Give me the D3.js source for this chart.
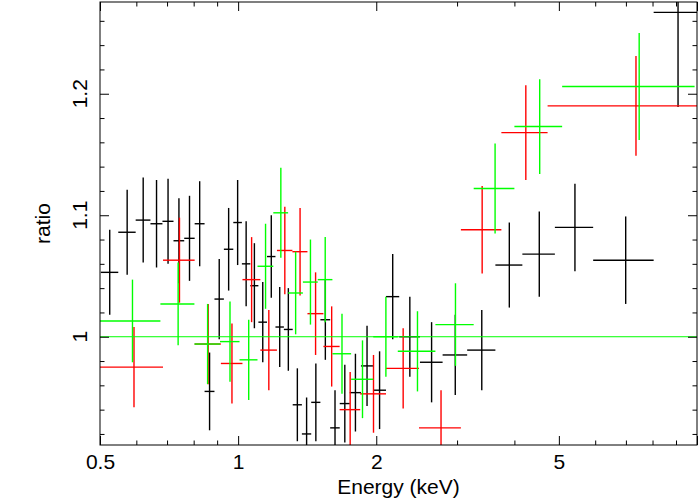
<!DOCTYPE html>
<head>
  <meta charset="utf-8">
  <style>
    body { margin: 0; background: #fff; }
    text { font-family: "Liberation Sans", Arial, sans-serif; }
  </style>
  <script src="https://cdn.jsdelivr.net/npm/d3@7"></script>
</head>
<body>
  <svg width="699" height="498"></svg>
  <script>

  // bin edges (keV), ratio and 1-sigma error per data group
  var blackEdges = [0.502, 0.548, 0.598, 0.644, 0.684, 0.723, 0.763, 0.804, 0.845, 0.888, 0.931, 0.976,
                    1.019, 1.063, 1.107, 1.156, 1.206, 1.258, 1.315, 1.377, 1.443, 1.511, 1.587, 1.665,
                    1.751, 1.852, 1.967, 2.100, 2.244, 2.490, 2.790, 3.156, 3.636, 4.163, 4.901, 5.939,
                    8.045, 10.14];
  var blackRatio = [1.053, 1.086, 1.096, 1.093, 1.095, 1.079, 1.081, 1.093, 0.955, 1.031, 1.072, 1.094,
                    1.060, 1.042, 1.012, 1.066, 1.008, 1.006, 0.944, 0.920, 0.946, 1.014, 0.925, 0.945,
                    0.954, 0.976, 0.956, 1.033, 1.000, 0.979, 0.985, 0.989, 1.059, 1.068, 1.090, 1.063,
                    1.267];
  var blackErr = [0.035, 0.035, 0.035, 0.036, 0.035, 0.035, 0.035, 0.035, 0.032, 0.033, 0.034, 0.035,
                  0.035, 0.035, 0.033, 0.034, 0.033, 0.034, 0.030, 0.030, 0.032, 0.033, 0.031, 0.032,
                  0.032, 0.033, 0.032, 0.035, 0.033, 0.033, 0.033, 0.033, 0.035, 0.035, 0.036, 0.036,
                  0.078];

  var redEdges = [0.5, 0.686, 0.804, 0.917, 1.022, 1.118, 1.215, 1.313, 1.416, 1.534, 1.664, 1.845,
                  2.100, 2.478, 3.058, 3.747, 4.725, 10.0];
  var redRatio = [0.975, 1.063, 0.994, 0.978, 1.047, 0.989, 1.071, 1.070, 1.019, 0.992, 0.940, 0.953,
                  0.974, 0.925, 1.088, 1.168, 1.190];
  var redErr = [0.033, 0.035, 0.033, 0.033, 0.035, 0.033, 0.036, 0.036, 0.034, 0.033, 0.031, 0.032,
                0.033, 0.031, 0.036, 0.039, 0.041];

  var greenEdges = [0.5, 0.677, 0.803, 0.913, 1.007, 1.102, 1.193, 1.285, 1.384, 1.491, 1.605, 1.763,
                    1.970, 2.228, 2.691, 3.261, 4.000, 5.083, 9.88];
  var greenRatio = [1.013, 1.027, 0.994, 0.996, 0.981, 1.058, 1.102, 1.036, 1.045, 1.047, 0.986, 0.965,
                    1.000, 0.988, 1.010, 1.122, 1.173, 1.206];
  var greenErr = [0.034, 0.034, 0.033, 0.033, 0.033, 0.035, 0.037, 0.034, 0.035, 0.035, 0.033, 0.032,
                  0.033, 0.033, 0.034, 0.037, 0.039, 0.044];

  var modelLevel = 1;

  var xMajor = [0.5, 1, 2, 5, 10];
  var xLabels = [0.5, 1, 2, 5];
  var xMinor = [0.6, 0.7, 0.8, 0.9, 3, 4, 6, 7, 8, 9];
  var yMajor = [1, 1.1, 1.2];
  var yMinor = [0.92, 0.94, 0.96, 0.98, 1.02, 1.04, 1.06, 1.08, 1.12, 1.14, 1.16, 1.18, 1.22, 1.24, 1.26];

  var svg = d3.select("svg"),
      padL = 100, padR = 697, padT = 2, padB = 445,
      fontSize = 21;

  var x = d3.scaleLog()
      .domain([0.5, 10])
      .range([padL, padR]);

  var y = d3.scaleLinear()
      .domain([0.9109, 1.2755])
      .range([padB, padT]);

  var series = [
    { color: "#000000", edges: blackEdges, ratio: blackRatio, err: blackErr },
    { color: "#ff0000", edges: redEdges, ratio: redRatio, err: redErr },
    { color: "#00ff00", edges: greenEdges, ratio: greenRatio, err: greenErr }
  ];

  svg.append("clipPath")
      .attr("id", "plot")
    .append("rect")
      .attr("x", padL)
      .attr("y", padT)
      .attr("width", padR - padL)
      .attr("height", padB - padT);

  var plot = svg.append("g").attr("clip-path", "url(#plot)");

  series.forEach(function(s) {
    var pts = s.ratio.map(function(r, i) {
      var lo = s.edges[i], hi = s.edges[i + 1];
      return { lo: lo, hi: hi, e: (lo + hi) / 2, r: r, dr: s.err[i] };
    });

    var g = plot.append("g")
        .attr("stroke", s.color)
        .attr("stroke-width", 1.4);

    g.selectAll(".h")
      .data(pts)
      .enter().append("line")
        .attr("x1", function(d) { return x(d.lo); })
        .attr("x2", function(d) { return x(d.hi); })
        .attr("y1", function(d) { return y(d.r); })
        .attr("y2", function(d) { return y(d.r); });

    g.selectAll(".v")
      .data(pts)
      .enter().append("line")
        .attr("x1", function(d) { return x(d.e); })
        .attr("x2", function(d) { return x(d.e); })
        .attr("y1", function(d) { return y(d.r - d.dr); })
        .attr("y2", function(d) { return y(d.r + d.dr); });
  });

  plot.append("line")
      .attr("x1", x(0.5))
      .attr("x2", x(10))
      .attr("y1", y(modelLevel))
      .attr("y2", y(modelLevel))
      .attr("stroke", "#00ff00")
      .attr("stroke-width", 1);

  // axes: ticks point inward on all four sides
  function ticks(axis, transform) {
    var g = svg.append("g").attr("transform", transform).call(axis);
    g.select(".domain").remove();
    g.selectAll("line").attr("stroke", "#000");
    return g;
  }

  var bx = ticks(d3.axisBottom(x).tickValues(xMajor).tickSize(-9).tickPadding(9)
      .tickFormat(function(d) { return xLabels.indexOf(d) >= 0 ? d : ""; }), "translate(0," + padB + ")");
  bx.attr("font-size", fontSize).attr("font-family", "Liberation Sans, Arial, sans-serif");
  bx.selectAll("text").attr("fill", "#000");
  ticks(d3.axisBottom(x).tickValues(xMinor).tickSize(-4.5).tickFormat(""), "translate(0," + padB + ")");
  ticks(d3.axisTop(x).tickValues(xMajor).tickSize(-9).tickFormat(""), "translate(0," + padT + ")");
  ticks(d3.axisTop(x).tickValues(xMinor).tickSize(-4.5).tickFormat(""), "translate(0," + padT + ")");

  ticks(d3.axisLeft(y).tickValues(yMajor).tickSize(-9).tickFormat(""), "translate(" + padL + ",0)");
  ticks(d3.axisLeft(y).tickValues(yMinor).tickSize(-4.5).tickFormat(""), "translate(" + padL + ",0)");
  ticks(d3.axisRight(y).tickValues(yMajor).tickSize(-9).tickFormat(""), "translate(" + padR + ",0)");
  ticks(d3.axisRight(y).tickValues(yMinor).tickSize(-4.5).tickFormat(""), "translate(" + padR + ",0)");

  svg.append("rect")
      .attr("x", padL)
      .attr("y", padT)
      .attr("width", padR - padL)
      .attr("height", padB - padT)
      .attr("fill", "none")
      .attr("stroke", "#000")
      .attr("stroke-width", 1);

  svg.append("g")
    .selectAll("text")
    .data(yMajor)
    .enter().append("text")
      .attr("transform", function(d) { return "translate(87," + y(d) + ") rotate(-90)"; })
      .attr("text-anchor", "middle")
      .attr("font-size", fontSize)
      .text(function(d) { return d; });

  svg.append("text")
      .attr("transform", "translate(50," + ((padT + padB) / 2) + ") rotate(-90)")
      .attr("text-anchor", "middle")
      .attr("font-size", fontSize)
      .text("ratio");

  svg.append("text")
      .attr("x", (padL + padR) / 2)
      .attr("y", 494)
      .attr("text-anchor", "middle")
      .attr("font-size", fontSize)
      .text("Energy (keV)");

  </script>
</body>
